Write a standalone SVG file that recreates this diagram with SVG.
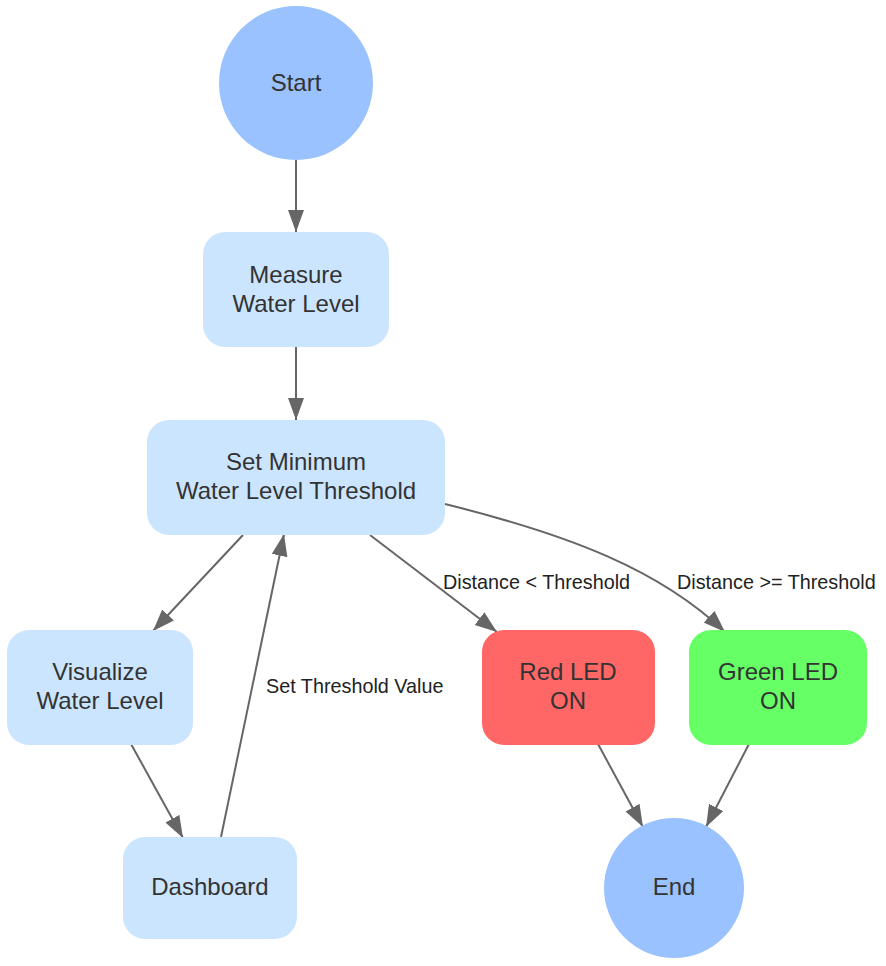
<svg xmlns="http://www.w3.org/2000/svg" width="886" height="966" viewBox="0 0 886 966">
<style>
.node text{font-family:"Liberation Sans",Arial,sans-serif;font-size:24px;fill:#333;text-anchor:middle}
.circ{fill:#99c2ff}
.box{fill:#cce5ff}
.edge{fill:none;stroke:#666;stroke-width:2}
.lbl{font-family:"Liberation Sans",Arial,sans-serif;font-size:19.8px;fill:#222}
</style>
<defs>
<marker id="arr" markerUnits="userSpaceOnUse" markerWidth="24" markerHeight="18" refX="22" refY="8" orient="auto">
<path d="M0,0 L22,8 L0,16 z" fill="#666"/>
</marker>
</defs>
<rect width="886" height="966" fill="#fff"/>
<g id="connectors">
<path class="edge" d="M296,160 L296,232" marker-end="url(#arr)"/>
<path class="edge" d="M296,347 L296,420" marker-end="url(#arr)"/>
<path class="edge" d="M243,535 L153,631" marker-end="url(#arr)"/>
<path class="edge" d="M131,744 L183,838" marker-end="url(#arr)"/>
<path class="edge" d="M221,837 L284,534" marker-end="url(#arr)"/>
<path class="edge" d="M370,535 L497,632" marker-end="url(#arr)"/>
<path class="edge" d="M445,504 C570,535 660,570 725,632" marker-end="url(#arr)"/>
<path class="edge" d="M598,744 L643,827" marker-end="url(#arr)"/>
<path class="edge" d="M749,744 L706,827" marker-end="url(#arr)"/>
<text class="lbl" x="443" y="589">Distance &lt; Threshold</text>
<text class="lbl" x="677" y="589">Distance &gt;= Threshold</text>
<text class="lbl" x="266" y="693">Set Threshold Value</text>
</g>
<g id="start" class="node">
<circle class="circ" cx="296" cy="83" r="77"/>
<text x="296" y="91">Start</text>
</g>
<g id="measure" class="node">
<rect class="box" x="203" y="232" width="186" height="115" rx="22"/>
<text x="296" y="283">Measure</text>
<text x="296" y="312">Water Level</text>
</g>
<g id="setmin" class="node">
<rect class="box" x="147" y="420" width="298" height="115" rx="22"/>
<text x="296" y="470">Set Minimum</text>
<text x="296" y="499">Water Level Threshold</text>
</g>
<g id="visualize" class="node">
<rect class="box" x="7" y="630" width="186" height="115" rx="22"/>
<text x="100" y="680">Visualize</text>
<text x="100" y="709">Water Level</text>
</g>
<g id="dashboard" class="node">
<rect class="box" x="123" y="837" width="174" height="102" rx="22"/>
<text x="210" y="895">Dashboard</text>
</g>
<g id="red" class="node">
<rect x="482" y="630" width="173" height="115" rx="22" fill="#ff6666"/>
<text x="568" y="680">Red LED</text>
<text x="568" y="709">ON</text>
</g>
<g id="green" class="node">
<rect x="689" y="630" width="178" height="115" rx="22" fill="#66ff66"/>
<text x="778" y="680">Green LED</text>
<text x="778" y="709">ON</text>
</g>
<g id="end" class="node">
<circle class="circ" cx="674" cy="888" r="70"/>
<text x="674" y="895">End</text>
</g>
</svg>
